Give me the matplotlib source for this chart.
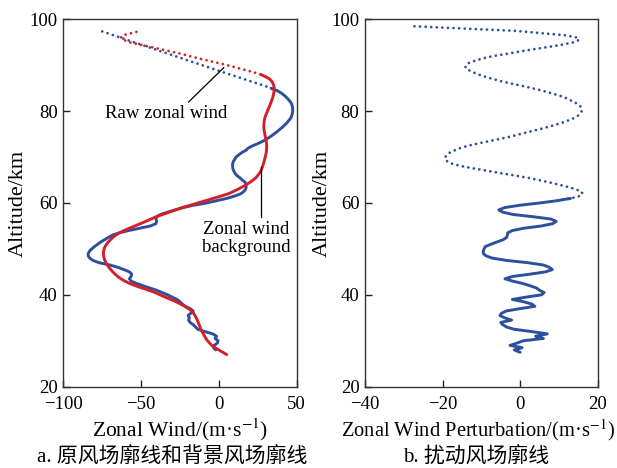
import numpy as np
import matplotlib
matplotlib.use("Agg")
import matplotlib.pyplot as plt

plt.rcParams['font.family'] = ['Liberation Serif', 'Noto Sans CJK SC']
plt.rcParams['mathtext.fontset'] = 'stix'

# ---------------- data (0.5 km altitude steps) ----------------
# background zonal wind (red), starting at 27.0 km
bg_start = 27.0
bg_wind = [5.0, 2.5, 0.0, -2.5, -4.5, -6.0, -7.3, -8.3, -9.2, -10.0,
           -10.8, -11.5, -12.1, -12.7, -13.3, -13.9, -14.6, -15.4, -16.3, -17.6,
           -19.6, -22.0, -24.6, -27.6, -31.0, -34.4, -37.8, -41.0, -45.0, -49.5,
           -53.7, -57.5, -60.5, -63.0, -65.0, -66.7, -68.2, -69.5, -70.7, -71.7,
           -72.6, -73.3, -73.8, -74.1, -74.2, -74.1, -73.8, -73.2, -72.3, -71.1,
           -69.7, -68.2, -66.3, -64.0, -61.0, -57.5, -54.0, -50.5, -47.0, -43.7,
           -40.4, -36.2, -32.0, -27.8, -23.6, -18.6, -13.6, -8.6, -3.7, 1.2,
           6.0, 9.3, 12.3, 15.0, 17.6, 20.0, 22.0, 23.7, 25.0, 26.1,
           27.0, 27.6, 28.1, 28.6, 29.0, 29.4, 29.8, 30.1, 30.4, 30.6,
           30.7, 30.7, 30.6, 30.4, 30.1, 29.8, 29.5, 29.2, 29.0, 28.9,
           28.9, 29.0, 29.2, 29.5, 30.0, 30.6, 31.2, 31.8, 32.4, 33.0,
           33.6, 34.1, 34.6, 35.0, 35.3, 35.5, 35.5, 35.3, 34.8, 34.0,
           32.6, 30.0, 26.8, 22.0, 16.5, 11.0, 5.4, -0.5, -7.0, -13.0,
           -19.0, -24.5, -31.0, -37.5, -44.0, -51.0, -57.5, -61.0, -63.0, -62.0,
           -56.0, -50.5]

# raw zonal wind (blue, left panel), starting at 28.0 km
raw_start = 28.0
raw_wind = [-2.0, -3.5, -3.0, -1.0, -0.5, -2.5, -1.5, -4.0, -9.0, -13.5,
            -15.0, -16.5, -18.5, -19.5, -19.0, -19.8, -18.0, -16.5, -18.5, -21.5,
            -23.5, -25.0, -27.0, -30.0, -33.0, -36.5, -40.0, -44.5, -49.0, -53.0,
            -56.5, -57.5, -56.5, -56.0, -57.5, -61.0, -65.0, -70.0, -77.0, -81.0,
            -83.0, -84.0, -84.0, -83.2, -81.8, -80.0, -78.0, -76.0, -73.5, -71.0,
            -68.5, -64.0, -58.0, -51.0, -44.0, -40.5, -40.0, -40.5, -40.0, -37.5,
            -33.0, -28.0, -23.0, -16.5, -8.0, -1.5, 5.0, 10.0, 14.0, 16.0,
            17.2, 17.5, 17.5, 16.8, 15.0, 13.5, 11.5, 10.3, 9.5, 9.0,
            8.8, 8.8, 9.2, 10.2, 11.0, 12.8, 14.8, 17.5, 19.0, 22.0,
            25.5, 28.5, 31.0, 33.3, 35.3, 37.3, 39.0, 40.8, 42.4, 43.8,
            45.0, 46.2, 46.8, 47.2, 47.4, 47.4, 47.2, 46.8, 46.0, 44.8,
            43.4, 41.8, 39.8, 37.2, 33.5, 29.5, 25.0, 20.5, 16.0, 11.5,
            7.0, 2.5, -2.0, -6.3, -10.7, -15.0, -19.5, -23.8, -28.2, -32.6,
            -37.0, -41.4, -45.8, -50.2, -54.6, -58.9, -63.1, -67.5, -71.9, -76.2]

# zonal wind perturbation (blue, right panel), starting at 27.5 km
pert_start = 27.5
pert_wind = [0.0, -1.5, 0.5, -2.6, -0.8, 0.8, 6.0, 4.0, 7.0, 3.0,
             -1.5, -3.5, -4.5, -5.0, -2.2, -4.0, -5.2, -4.8, -3.5, 0.0,
             3.8, 3.0, 0.9, -2.0, 1.5, 5.5, 6.2, 5.0, 4.2, 2.5,
             0.6, -2.0, -3.9, -2.0, 2.5, 6.5, 8.3, 7.5, 6.0, 2.0,
             -3.5, -7.2, -8.8, -9.5, -9.5, -9.3, -9.0, -7.6, -6.0, -4.4,
             -3.5, -3.3, -3.2, -2.0, 0.9, 5.5, 8.4, 9.3, 8.0, 3.4,
             -1.8, -4.5, -5.5, -4.0, -0.2, 5.0, 9.5, 13.0, 15.3, 16.1,
             15.8, 14.3, 12.3, 10.0, 7.5, 4.8, 2.0, -1.5, -5.0, -8.4,
             -11.8, -15.0, -17.4, -18.7, -19.3, -19.3, -18.9, -18.1, -16.8, -15.3,
             -13.3, -10.6, -7.9, -4.9, -2.3, 0.0, 2.3, 4.7, 6.9, 9.0,
             10.9, 12.5, 13.9, 14.9, 15.5, 15.9, 15.9, 15.6, 14.9, 13.9,
             12.6, 11.5, 9.7, 7.7, 5.5, 3.1, 0.5, -2.2, -4.8, -7.0,
             -9.0, -10.8, -12.2, -13.4, -14.1, -14.0, -13.2, -11.6, -9.5, -7.0,
             -3.3, 0.0, 3.6, 7.5, 11.0, 13.8, 15.2, 14.8, 11.8, 5.3,
             -1.5, -15.0, -28.0]

x_ticks_a = [-100, -50, 0, 50]
x_ticks_b = [-40, -20, 0, 20]
y_ticks = [20, 40, 60, 80, 100]

BLUE = '#2d4f9e'
RED = '#d42028'

def alt(start, vals):
    return start + 0.5 * np.arange(len(vals))

bg_alt = alt(bg_start, bg_wind)
raw_alt = alt(raw_start, raw_wind)
pert_alt = alt(pert_start, pert_wind)
bg = np.array(bg_wind)
raw = np.array(raw_wind)
pert = np.array(pert_wind)

W, H = 617, 468
fig = plt.figure(figsize=(W / 100, H / 100), dpi=100)

def px_axes(x0, y0, x1, y1):
    return fig.add_axes([x0 / W, 1 - y1 / H, (x1 - x0) / W, (y1 - y0) / H])

axa = px_axes(63.3, 19.3, 296.7, 386.7)
axb = px_axes(365.0, 19.3, 597.7, 386.7)

dot = dict(linestyle=(0, (0.01, 2.0)), dash_capstyle='round', lw=2.0)

def split_plot(ax, x, z, cut_line, cut_dot, color):
    m1 = z <= cut_line
    m2 = z >= cut_dot
    ax.plot(x[m1], z[m1], color=color, lw=2.1, solid_capstyle='round', solid_joinstyle='round')
    ax.plot(x[m2], z[m2], color=color, **dot)

split_plot(axa, raw, raw_alt, 85.0, 84.5, BLUE)
split_plot(axa, bg, bg_alt, 88.0, 87.5, RED)
split_plot(axb, pert, pert_alt, 61.0, 60.5, BLUE)

for ax, xt in ((axa, x_ticks_a), (axb, x_ticks_b)):
    ax.set_ylim(20, 100)
    ax.set_xlim(xt[0], xt[-1])
    ax.set_xticks(xt)
    ax.set_yticks(y_ticks)
    ax.tick_params(direction='in', length=5, width=1, labelsize=13.5,
                   colors='#222222', labelcolor='black')
    ax.tick_params(axis='x', pad=7)
    ax.tick_params(axis='y', pad=4)
    for s in ax.spines.values():
        s.set_linewidth(1.0)
        s.set_color('#333333')

fig.text(18 / W, 1 - 203 / H, 'Altitude/km', fontsize=16, rotation=90,
         ha='center', va='center')
fig.text(322 / W, 1 - 203 / H, 'Altitude/km', fontsize=16, rotation=90,
         ha='center', va='center')
fig.text(180 / W, 1 - 430 / H, 'Zonal Wind/(m·s$^{-1}$)', fontsize=15.5,
         ha='center', va='center')
fig.text(478 / W, 1 - 430 / H, 'Zonal Wind Perturbation/(m·s$^{-1}$)',
         fontsize=14.8, ha='center', va='center')

axa.annotate('Raw zonal wind', xy=(3.2, 89.5), xytext=(-34, 79.5),
             fontsize=13.5, ha='center', va='center',
             arrowprops=dict(arrowstyle='-', color='black', lw=0.9,
                             shrinkA=0, shrinkB=0, relpos=(0.66, 1.0)))
axa.plot([27.2, 27.2], [57.0, 67.9], color='black', lw=0.9)
axa.text(17.8, 52.3, 'Zonal wind\nbackground', fontsize=13.5, ha='center',
         va='center', linespacing=1.05)

fig.text(172 / W, 1 - 458 / H, 'a. 原风场廓线和背景风场廓线', fontsize=15,
         ha='center', va='center')
fig.text(476 / W, 1 - 458 / H, 'b. 扰动风场廓线', fontsize=15,
         ha='center', va='center')

fig.savefig('out.png', dpi=100)
